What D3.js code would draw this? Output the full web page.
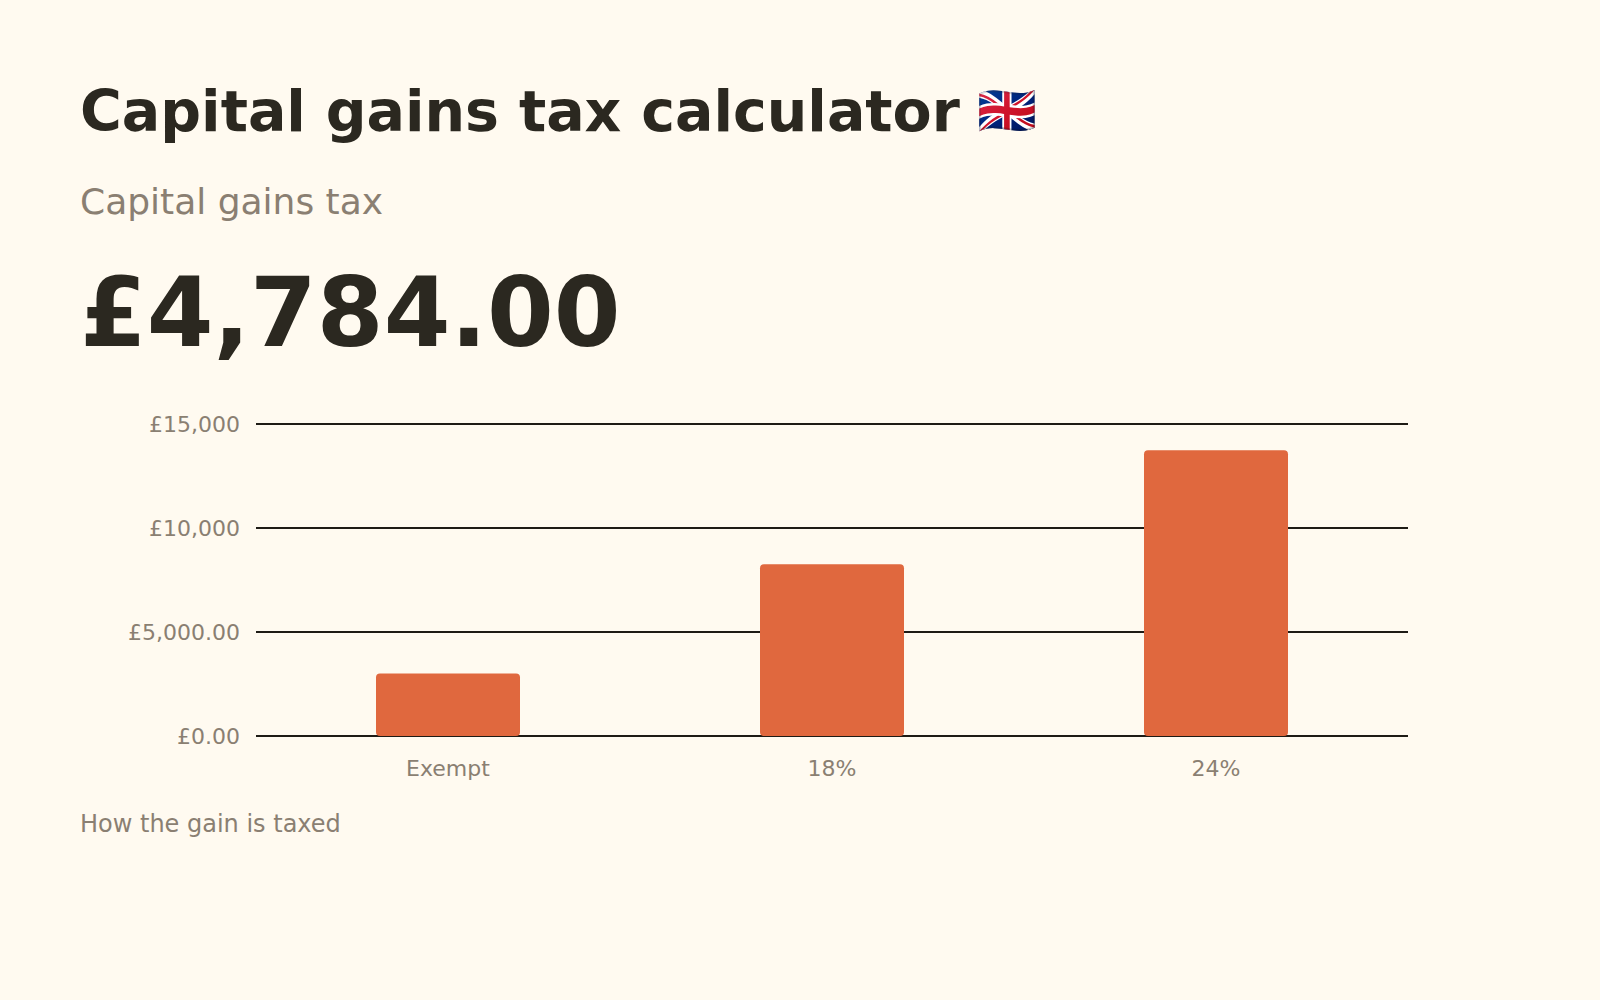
<!DOCTYPE html>
<html>
<head>
<meta charset="utf-8">
<script src="https://cdn.jsdelivr.net/npm/d3@7"></script>
<style>
  body { margin: 0; background: #fffaf0; }
  svg { display: block; font-family: "DejaVu Sans", sans-serif; }
</style>
</head>
<body>
<div id="chart"></div>
<script>
// chart data
const bands = ["Exempt", "18%", "24%"];
const amounts = [3000, 8260, 13740];
const yTicks = [0, 5000, 10000, 15000];
const yTickLabels = ["£0.00", "£5,000.00", "£10,000", "£15,000"];

const width = 1600,
      height = 1000;
const font = "'DejaVu Sans', sans-serif";

const svg = d3.select("#chart")
  .append("svg")
    .attr("width", width)
    .attr("height", height);

svg.append("rect")
    .attr("width", width)
    .attr("height", height)
    .attr("fill", "#fffaf0");

// header texts
const title = svg.append("text")
    .attr("x", 80)
    .attr("y", 131)
    .style("font-size", "57px")
    .style("font-weight", "bold")
    .style("fill", "#2b2820")
  .text("Capital gains tax calculator");
title.append("tspan")
    .attr("dy", -4)
    .style("font-size", "48px")
  .text(" 🇬🇧");

svg.append("text")
    .attr("x", 80)
    .attr("y", 214)
    .style("font-size", "36px")
    .style("fill", "#8a7f72")
  .text("Capital gains tax");

svg.append("text")
    .attr("x", 80)
    .attr("y", 346)
    .style("font-size", "96px")
    .style("font-weight", "bold")
    .style("fill", "#2b2820")
  .text("£4,784.00");

// scales
const x = d3.scaleBand()
    .domain(bands)
    .range([256, 1408])
    .paddingInner(0.625)
    .paddingOuter(0.3125);

const y = d3.scaleLinear()
    .domain([0, 15000])
    .range([736, 424]);

// gridlines + y labels
const yAxis = d3.axisLeft(y)
    .tickValues(yTicks)
    .tickSize(-(1408 - 256))
    .tickPadding(16)
    .offset(0)
    .tickFormat((d, i) => yTickLabels[i]);

const gy = svg.append("g")
    .attr("transform", "translate(256,0)")
    .call(yAxis)
    .attr("font-family", font);
gy.select(".domain").remove();
gy.selectAll(".tick line")
    .attr("stroke", "#1e1b15")
    .attr("stroke-width", 2);
gy.selectAll(".tick text")
    .style("font-size", "22px")
    .style("fill", "#8a7f72")
    .attr("dy", "0.35em");

// bars
svg.append("g")
  .selectAll("rect")
  .data(amounts)
  .join("rect")
    .attr("x", (d, i) => x(bands[i]))
    .attr("y", d => y(d))
    .attr("width", x.bandwidth())
    .attr("height", d => y(0) - y(d))
    .attr("rx", 4)
    .attr("fill", "#e0683e");

// x labels
const xAxis = d3.axisBottom(x).tickSize(0).tickPadding(0).offset(0);
const gx = svg.append("g")
    .attr("transform", `translate(0,${y(0)})`)
    .call(xAxis)
    .attr("font-family", font);
gx.select(".domain").remove();
gx.selectAll(".tick text")
    .attr("y", 40)
    .attr("dy", 0)
    .style("font-size", "22px")
    .style("fill", "#8a7f72");

// footnote
svg.append("text")
    .attr("x", 80)
    .attr("y", 832)
    .style("font-size", "24px")
    .style("fill", "#8a7f72")
  .text("How the gain is taxed");
</script>
</body>
</html>
